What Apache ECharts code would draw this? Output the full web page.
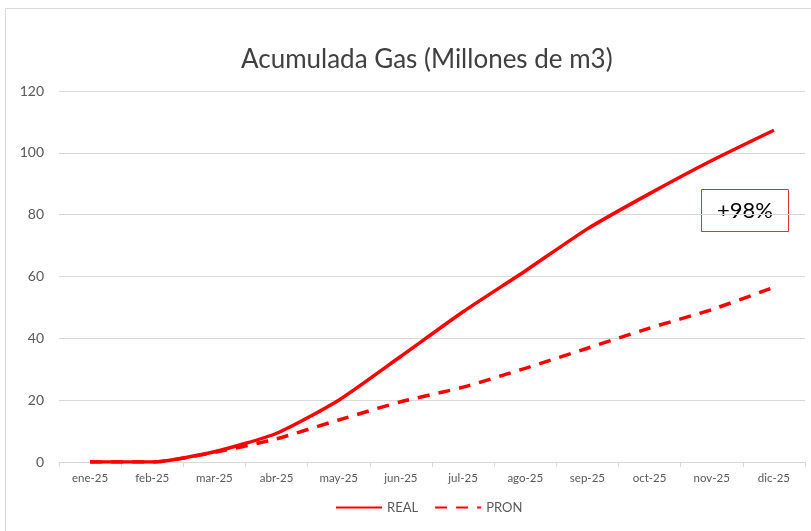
<!DOCTYPE html>
<html>
<head>
<meta charset="utf-8">
<script src="https://cdn.jsdelivr.net/npm/echarts@6/dist/echarts.min.js"></script>
<style>
html, body { margin: 0; padding: 0; background: #fff; }
#main { width: 811px; height: 531px; }
</style>
</head>
<body>
<div id="main"></div>
<script>
var meses = ['ene-25', 'feb-25', 'mar-25', 'abr-25', 'may-25', 'jun-25', 'jul-25', 'ago-25', 'sep-25', 'oct-25', 'nov-25', 'dic-25'];
var real = [0, 0, 3.3, 9.3, 20, 34.2, 48.6, 61.8, 75.4, 86.8, 97.5, 107.3];
var pron = [0, 0, 3.1, 7.5, 13.6, 19.5, 24.2, 30.3, 36.8, 43.3, 49.3, 56.5];
var etiqueta = '+98%';

var myChart = echarts.init(document.getElementById('main'));

var option = {
    backgroundColor: '#fff',
    animation: false,
    title: {
        text: 'Acumulada Gas (Millones de m3)',
        left: 236,
        top: 42,
        textStyle: {
            fontFamily: 'Lato',
            fontWeight: 'normal',
            fontSize: 26,
            color: '#404040'
        }
    },
    grid: {
        left: 59,
        right: 6,
        top: 91,
        bottom: 69
    },
    xAxis: {
        type: 'category',
        data: meses,
        boundaryGap: true,
        axisLine: { lineStyle: { color: '#d9d9d9' } },
        axisTick: { show: true, length: 5, lineStyle: { color: '#d9d9d9' } },
        axisLabel: { color: '#595959', fontSize: 11.5, fontFamily: 'Lato', margin: 10 }
    },
    yAxis: {
        type: 'value',
        min: 0,
        max: 120,
        interval: 20,
        axisLine: { show: false },
        axisTick: { show: false },
        axisLabel: { color: '#595959', fontSize: 14, fontFamily: 'Lato', margin: 15 },
        splitLine: { lineStyle: { color: '#d9d9d9' } }
    },
    legend: {
        bottom: 12,
        left: 330,
        itemWidth: 46,
        itemHeight: 4,
        itemGap: 16,
        itemStyle: { opacity: 0 },
        textStyle: { color: '#595959', fontSize: 13, fontFamily: 'Lato' },
        data: ['REAL', 'PRON']
    },
    series: [{
        name: 'REAL',
        type: 'line',
        data: real,
        smooth: 0.2,
        symbol: 'none',
        itemStyle: { color: '#ff0000' },
        lineStyle: { color: '#ff0000', width: 3.5 }
    }, {
        name: 'PRON',
        type: 'line',
        data: pron,
        smooth: 0.2,
        symbol: 'none',
        itemStyle: { color: '#ff0000' },
        lineStyle: { color: '#ff0000', width: 3.5, type: [12, 9] }
    }],
    graphic: [{
        type: 'rect',
        shape: { x: 5.5, y: 8.5, width: 830, height: 540 },
        style: { fill: 'none', stroke: '#d9d9d9', lineWidth: 1 },
        silent: true
    }, {
        type: 'group',
        left: 701,
        top: 189,
        children: [{
            type: 'rect',
            shape: { x: 0, y: 0, width: 87, height: 42 },
            style: { fill: '#fff', stroke: '#e03030', lineWidth: 1 }
        }, {
            type: 'text',
            x: 43.5,
            y: 21,
            style: {
                text: etiqueta,
                fontSize: 22,
                fontFamily: 'Lato',
                fill: '#000',
                align: 'center',
                verticalAlign: 'middle'
            }
        }]
    }]
};

myChart.setOption(option);
window.onresize = myChart.resize;
</script>
</body>
</html>
